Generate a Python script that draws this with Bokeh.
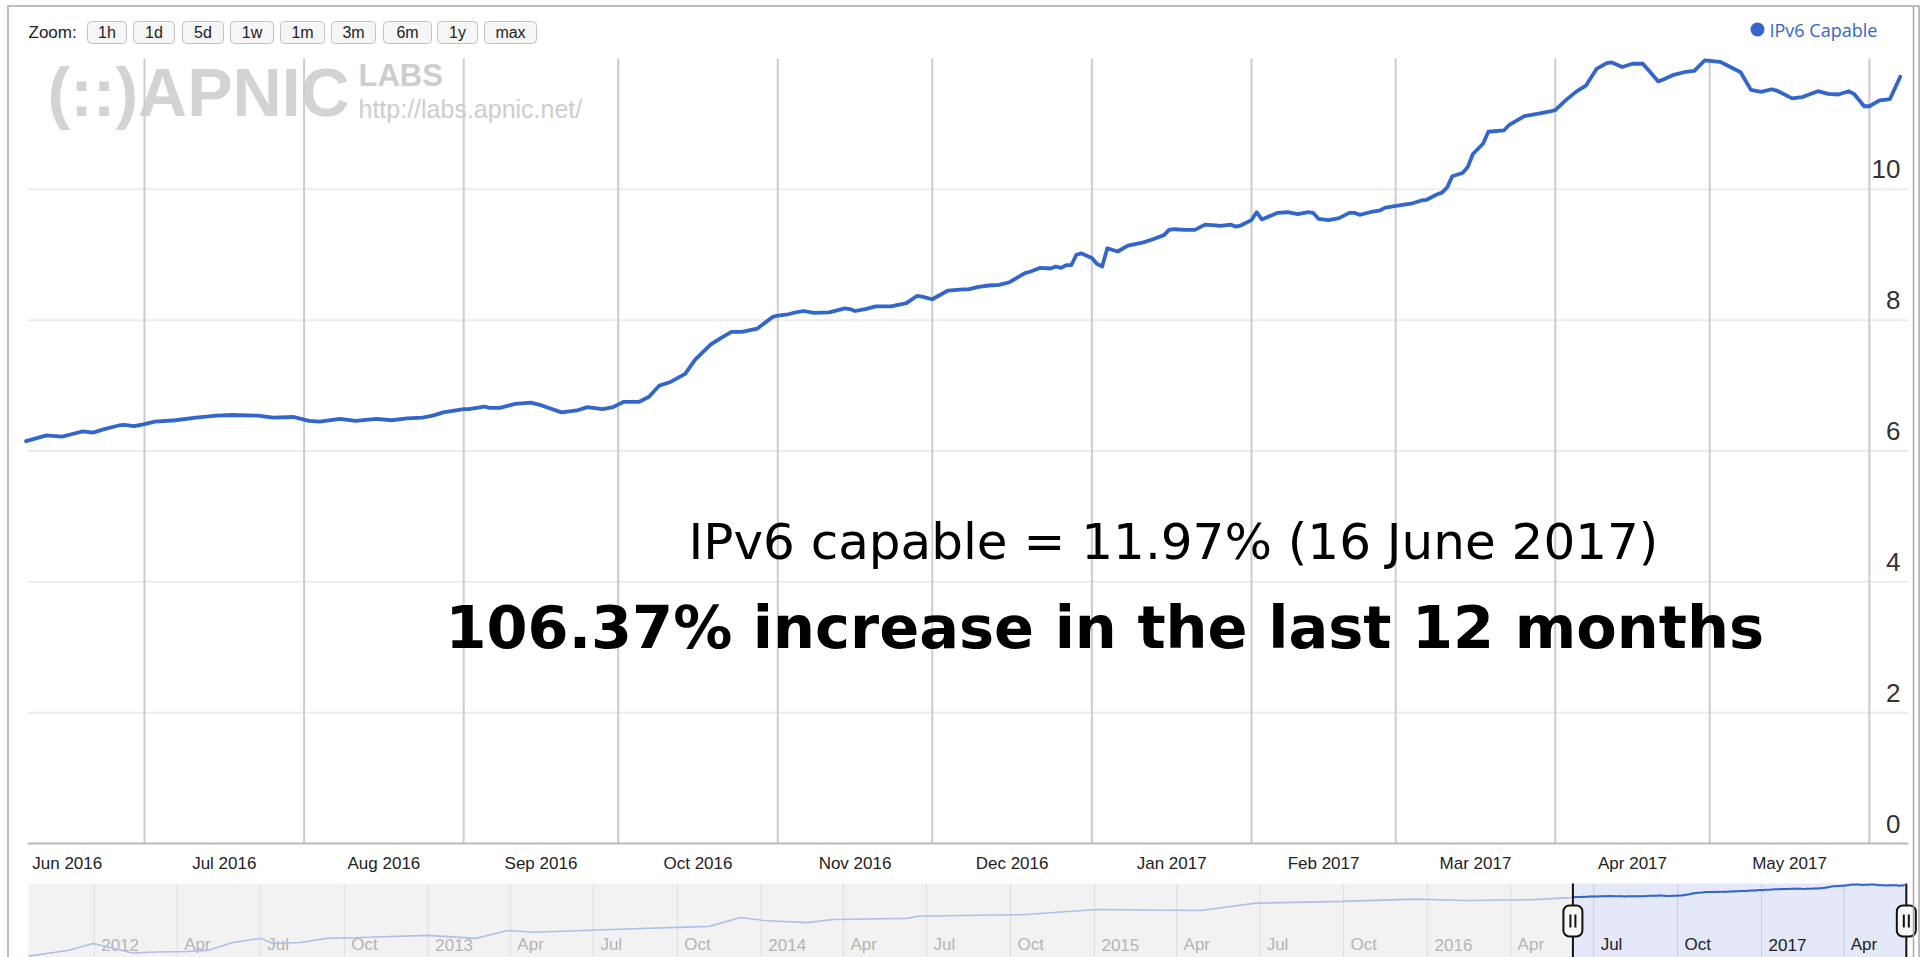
import numpy as np
from bokeh.plotting import figure
from bokeh.models import Range1d, LogScale
from bokeh.core.properties import value
from bokeh.embed import file_html
from bokeh.resources import INLINE

# ---------------------------------------------------------------- data
SERIES_NAME = "IPv6 Capable"
HEADLINE = "IPv6 capable = 11.97% (16 June 2017)"
SUBLINE = "106.37% increase in the last 12 months"
ZOOM_LABEL = "Zoom:"
ZOOM_BUTTONS = ["1h", "1d", "5d", "1w", "1m", "3m", "6m", "1y", "max"]
WATERMARK = ["(::)APNIC", "LABS", "http://labs.apnic.net/"]

dates = [
    "2016-06-08", "2016-06-12", "2016-06-15", "2016-06-17", "2016-06-19", "2016-06-21", "2016-06-23", "2016-06-26", "2016-06-27", "2016-06-29",
    "2016-07-01", "2016-07-03", "2016-07-07", "2016-07-11", "2016-07-15", "2016-07-18", "2016-07-23", "2016-07-26", "2016-07-30", "2016-07-31",
    "2016-08-02", "2016-08-04", "2016-08-08", "2016-08-11", "2016-08-15", "2016-08-18", "2016-08-21", "2016-08-24", "2016-08-26", "2016-08-28",
    "2016-09-01", "2016-09-02", "2016-09-05", "2016-09-06", "2016-09-08", "2016-09-11", "2016-09-14", "2016-09-16", "2016-09-20", "2016-09-23",
    "2016-09-25", "2016-09-28", "2016-09-30", "2016-10-02", "2016-10-05", "2016-10-07", "2016-10-09", "2016-10-11", "2016-10-14", "2016-10-16",
    "2016-10-19", "2016-10-21", "2016-10-23", "2016-10-25", "2016-10-28", "2016-10-31", "2016-11-01", "2016-11-03", "2016-11-04", "2016-11-06",
    "2016-11-08", "2016-11-11", "2016-11-14", "2016-11-15", "2016-11-16", "2016-11-18", "2016-11-20", "2016-11-23", "2016-11-26", "2016-11-28",
    "2016-11-29", "2016-12-01", "2016-12-04", "2016-12-07", "2016-12-08", "2016-12-10", "2016-12-12", "2016-12-14", "2016-12-16", "2016-12-19",
    "2016-12-20", "2016-12-22", "2016-12-24", "2016-12-25", "2016-12-26", "2016-12-27", "2016-12-28", "2016-12-29", "2016-12-30", "2017-01-01",
    "2017-01-02", "2017-01-03", "2017-01-04", "2017-01-06", "2017-01-08", "2017-01-11", "2017-01-13", "2017-01-15", "2017-01-16", "2017-01-17",
    "2017-01-19", "2017-01-21", "2017-01-23", "2017-01-25", "2017-01-26", "2017-01-28", "2017-01-29", "2017-01-30", "2017-02-01", "2017-02-02",
    "2017-02-03", "2017-02-06", "2017-02-08", "2017-02-10", "2017-02-12", "2017-02-13", "2017-02-14", "2017-02-16", "2017-02-18", "2017-02-20",
    "2017-02-21", "2017-02-22", "2017-02-24", "2017-02-26", "2017-02-27", "2017-03-02", "2017-03-04", "2017-03-06", "2017-03-07", "2017-03-09",
    "2017-03-10", "2017-03-11", "2017-03-12", "2017-03-14", "2017-03-15", "2017-03-16", "2017-03-18", "2017-03-19", "2017-03-22", "2017-03-23",
    "2017-03-26", "2017-03-29", "2017-03-31", "2017-04-01", "2017-04-03", "2017-04-05", "2017-04-07", "2017-04-09", "2017-04-11", "2017-04-12",
    "2017-04-14", "2017-04-16", "2017-04-18", "2017-04-19", "2017-04-21", "2017-04-22", "2017-04-24", "2017-04-26", "2017-04-28", "2017-04-30",
    "2017-05-03", "2017-05-05", "2017-05-07", "2017-05-09", "2017-05-11", "2017-05-13", "2017-05-14", "2017-05-17", "2017-05-19", "2017-05-22",
    "2017-05-24", "2017-05-26", "2017-05-28", "2017-05-29", "2017-05-31", "2017-06-01", "2017-06-03", "2017-06-05", "2017-06-07",
]
ipv6_capable = [
    6.15, 6.24, 6.22, 6.26, 6.30, 6.28, 6.33, 6.39, 6.40, 6.38,
    6.41, 6.45, 6.47, 6.51, 6.54, 6.55, 6.54, 6.51, 6.52, 6.50,
    6.46, 6.45, 6.49, 6.46, 6.49, 6.47, 6.50, 6.51, 6.54, 6.59,
    6.64, 6.64, 6.68, 6.66, 6.66, 6.72, 6.74, 6.70, 6.59, 6.62,
    6.67, 6.64, 6.67, 6.75, 6.75, 6.83, 7.00, 7.05, 7.18, 7.40,
    7.63, 7.73, 7.82, 7.82, 7.87, 8.05, 8.07, 8.09, 8.11, 8.14,
    8.11, 8.12, 8.18, 8.17, 8.14, 8.17, 8.21, 8.21, 8.26, 8.37,
    8.36, 8.32, 8.45, 8.47, 8.47, 8.51, 8.53, 8.54, 8.58, 8.72,
    8.74, 8.80, 8.79, 8.82, 8.80, 8.84, 8.84, 9.00, 9.02, 8.95,
    8.86, 8.82, 9.10, 9.05, 9.14, 9.19, 9.24, 9.30, 9.38, 9.39,
    9.38, 9.38, 9.46, 9.45, 9.44, 9.46, 9.43, 9.45, 9.53, 9.65,
    9.54, 9.64, 9.65, 9.62, 9.65, 9.64, 9.55, 9.53, 9.56, 9.64,
    9.64, 9.61, 9.65, 9.68, 9.72, 9.76, 9.78, 9.83, 9.84, 9.92,
    9.95, 10.03, 10.20, 10.25, 10.34, 10.54, 10.70, 10.88, 10.90, 10.98,
    11.12, 11.16, 11.19, 11.21, 11.36, 11.49, 11.59, 11.84, 11.93, 11.94,
    11.87, 11.92, 11.92, 11.83, 11.65, 11.68, 11.75, 11.79, 11.81, 11.97,
    11.95, 11.87, 11.79, 11.52, 11.49, 11.53, 11.51, 11.39, 11.41, 11.50,
    11.46, 11.45, 11.50, 11.46, 11.27, 11.27, 11.36, 11.38, 11.72,
]

# longer history shown in the navigator strip (log scale)
history_dates = [
    "2011-10-21", "2011-12-03", "2011-12-31", "2012-02-12", "2012-03-10", "2012-04-12", "2012-05-04",
    "2012-06-01", "2012-07-01", "2012-07-15", "2012-08-14", "2012-09-12", "2012-10-18", "2012-12-31",
    "2013-02-23", "2013-03-29", "2013-04-26", "2013-07-21", "2013-11-05", "2013-12-09", "2014-01-04",
    "2014-02-21", "2014-03-20", "2014-06-09", "2014-06-22", "2014-08-07", "2014-10-14", "2015-01-03",
    "2015-04-27", "2015-06-27", "2015-09-29", "2015-12-19", "2016-02-12", "2016-04-26", "2016-06-06",
]
history_values = [
    0.29, 0.39, 0.56, 0.34, 0.36, 0.37, 0.39,
    0.59, 0.73, 0.56, 0.59, 0.73, 0.76, 0.85,
    0.73, 1.10, 1.00, 1.16, 1.36, 2.16, 1.85,
    1.65, 1.95, 2.06, 2.30, 2.40, 2.49, 3.27,
    3.11, 4.54, 4.97, 5.60, 5.23, 5.45, 6.05,
]

month_bounds = ["2016-06-01", "2016-07-01", "2016-08-01", "2016-09-01", "2016-10-01", "2016-11-01", "2016-12-01",
                "2017-01-01", "2017-02-01", "2017-03-01", "2017-04-01", "2017-05-01", "2017-06-01"]
month_labels = ["Jun 2016", "Jul 2016", "Aug 2016", "Sep 2016", "Oct 2016", "Nov 2016",
                "Dec 2016", "Jan 2017", "Feb 2017", "Mar 2017", "Apr 2017", "May 2017"]
y_ticks = [0, 2, 4, 6, 8, 10]
y_tick_labels = ["0", "2", "4", "6", "8", "10"]
y_max = 12
nav_ticks = ["2012-01-01", "2012-04-01", "2012-07-01", "2012-10-01", "2013-01-01", "2013-04-01", "2013-07-01", "2013-10-01",
             "2014-01-01", "2014-04-01", "2014-07-01", "2014-10-01", "2015-01-01", "2015-04-01", "2015-07-01", "2015-10-01",
             "2016-01-01", "2016-04-01", "2016-07-01", "2016-10-01", "2017-01-01", "2017-04-01"]
nav_tick_labels = ["2012", "Apr", "Jul", "Oct", "2013", "Apr", "Jul", "Oct",
                   "2014", "Apr", "Jul", "Oct", "2015", "Apr", "Jul", "Oct",
                   "2016", "Apr", "Jul", "Oct", "2017", "Apr"]
window = ("2016-06-08T06:45", "2017-06-08T14:30")
nav_window = ("2011-10-21T00:00", "2017-06-11T00:00")

# ---------------------------------------------------------------- layout
W, H = 1927, 957
PLOT_L, PLOT_R, PLOT_T, PLOT_B = 27, 1908, 58, 843
NAV_L, NAV_R, NAV_T, NAV_B = 28, 1908, 883, 957
NAV_LOG_TOP, NAV_LOG_BOTTOM = 12.6, 0.27

BLUE = "#3366cc"
SANS = value("Liberation Sans")
VERD = value("DejaVu Sans")

def ms(s):
    return float(np.datetime64(s, "ms").astype("int64"))

def stretch(d0, d1, p0, p1, q0, q1):
    k = (d1 - d0) / (p1 - p0)
    return d0 + (q0 - p0) * k, d0 + (q1 - p0) * k

t = [ms(d) for d in dates]
w0, w1 = ms(window[0]), ms(window[1])
n0, n1 = ms(nav_window[0]), ms(nav_window[1])

p = figure(width=W, height=H, output_backend="svg", toolbar_location=None, tools="",
           x_range=Range1d(0, W), y_range=Range1d(H, 0),
           x_axis_location=None, y_axis_location=None, min_border=0)
p.outline_line_color = None
p.xgrid.visible = False
p.ygrid.visible = False
p.background_fill_color = "white"
p.border_fill_color = "white"

p.extra_x_ranges = {
    "date": Range1d(*stretch(w0, w1, PLOT_L, PLOT_R, 0, W)),
    "nav": Range1d(*stretch(n0, n1, NAV_L, NAV_R, 0, W)),
}
lo, hi = stretch(np.log(NAV_LOG_TOP), np.log(NAV_LOG_BOTTOM), NAV_T, NAV_B, H, 0)
p.extra_y_ranges = {
    "pct": Range1d(*stretch(0, y_max, PLOT_B, PLOT_T, H, 0)),
    "navy": Range1d(float(np.exp(lo)), float(np.exp(hi))),
}
p.extra_y_scales = {"navy": LogScale()}

# ---------------------------------------------------------------- watermark
p.text(x=[47], y=[91], text=[WATERMARK[0]], text_font=SANS, text_font_style="bold",
       text_font_size="68px", text_color="#d3d3d3", text_baseline="middle")
p.text(x=[358], y=[75], text=[WATERMARK[1]], text_font=SANS, text_font_style="bold",
       text_font_size="31px", text_color="#cdcdcd", text_baseline="middle")
p.text(x=[358], y=[108], text=[WATERMARK[2]], text_font=SANS,
       text_font_size="25px", text_color="#cdcdcd", text_baseline="middle")

# ---------------------------------------------------------------- grid + axis
p.segment(x0=[w0] * 5, x1=[w1] * 5, y0=y_ticks[1:], y1=y_ticks[1:], x_range_name="date", y_range_name="pct",
          line_color="#ebebf4", line_width=2)
grid_months = [ms(m) for m in month_bounds if w0 < ms(m) < w1]
p.segment(x0=grid_months, x1=grid_months, y0=[0] * len(grid_months), y1=[y_max] * len(grid_months),
          x_range_name="date", y_range_name="pct", line_color="#cccccc", line_width=2)
p.segment(x0=[w0], x1=[w1], y0=[0], y1=[0], x_range_name="date", y_range_name="pct",
          line_color="#bbbbbb", line_width=2)

# ---------------------------------------------------------------- series
p.line(x=t, y=ipv6_capable, x_range_name="date", y_range_name="pct",
       line_color=BLUE, line_width=3.8, line_join="round", line_cap="round")

# axis labels
mids = [(ms(a) + ms(b)) / 2 for a, b in zip(month_bounds[:-1], month_bounds[1:])]
p.text(x=mids, y=[863] * len(mids), text=month_labels, x_range_name="date",
       text_font=SANS, text_font_size="17px", text_color="#222222",
       text_align="center", text_baseline="middle")
p.text(x=[1900] * len(y_ticks), y=y_ticks, text=y_tick_labels, y_range_name="pct", y_offset=-20,
       text_font=SANS, text_font_size="26px", text_color="#333333",
       text_align="right", text_baseline="middle")

# ---------------------------------------------------------------- annotation
p.text(x=[688], y=[541], text=[HEADLINE], text_font=VERD, text_font_size="50px",
       text_color="#000000", text_baseline="middle")
p.text(x=[445], y=[627], text=[SUBLINE], text_font=VERD, text_font_style="bold",
       text_font_size="59px", text_color="#000000", text_baseline="middle")

# ---------------------------------------------------------------- header: zoom buttons + legend
p.text(x=[28], y=[32], text=[ZOOM_LABEL], text_font=SANS, text_font_size="17px",
       text_color="#222222", text_baseline="middle")
BUTTON_X = [(87, 126), (133, 174), (182, 223), (230, 273), (280, 324), (331, 375), (383, 431), (437, 477), (484, 536)]
p.quad(left=[a for a, b in BUTTON_X], right=[b for a, b in BUTTON_X],
       top=[21] * 9, bottom=[43] * 9, border_radius=4,
       fill_color="#f6f6f6", line_color="#c2c2c2", line_width=1)
p.text(x=[(a + b) / 2 for a, b in BUTTON_X], y=[32] * 9, text=ZOOM_BUTTONS,
       text_font=SANS, text_font_size="16px", text_color="#222222",
       text_align="center", text_baseline="middle")
p.scatter(x=[1757], y=[29], marker="circle", size=14, fill_color=BLUE, line_color=None)
p.text(x=[1769], y=[29], text=[SERIES_NAME], text_font=value("Open Sans"),
       text_font_size="18px", text_color=BLUE, text_baseline="middle")

# ---------------------------------------------------------------- navigator
p.quad(left=[n0], right=[w0], top=[NAV_T], bottom=[NAV_B], x_range_name="nav",
       fill_color="#f2f2f2", line_color=None)
p.quad(left=[w0], right=[w1], top=[NAV_T], bottom=[NAV_B], x_range_name="nav",
       fill_color="#e5e8f8", line_color=None)
nt = [ms(d) for d in nav_ticks]
inside = [x >= w0 for x in nt]
for sel, col, tcol in ((False, "#dedede", "#b4b4b4"), (True, "#c9ccd8", "#222222")):
    xs = [x for x, s in zip(nt, inside) if s == sel]
    labs = [l for l, s in zip(nav_tick_labels, inside) if s == sel]
    p.segment(x0=xs, x1=xs, y0=[NAV_T] * len(xs), y1=[NAV_B] * len(xs), x_range_name="nav",
              line_color=col, line_width=1)
    p.text(x=xs, y=[944] * len(xs), text=labs, x_range_name="nav", x_offset=7,
           text_font=SANS, text_font_size="17px", text_color=tcol, text_baseline="middle")
hist_t = [ms(d) for d in history_dates]
p.line(x=hist_t + t, y=history_values + ipv6_capable, x_range_name="nav", y_range_name="navy",
       line_color="#aebfea", line_width=1.6)
p.line(x=t, y=ipv6_capable, x_range_name="nav", y_range_name="navy", line_color=BLUE, line_width=2)

nav_ms_px = (n1 - n0) / (NAV_R - NAV_L)
for hx in (w0, w1):
    p.segment(x0=[hx], x1=[hx], y0=[NAV_T], y1=[NAV_B], x_range_name="nav",
              line_color="#111111", line_width=2)
    p.rect(x=[hx], y=[920.5], width=19, height=31, width_units="screen", height_units="screen",
           x_range_name="nav", fill_color="#f7f7f7", line_color="#111111", line_width=2, border_radius=6)
    p.rect(x=[hx - 2.5 * nav_ms_px, hx + 2.5 * nav_ms_px], y=[920.5] * 2, width=2, height=13,
           width_units="screen", height_units="screen", x_range_name="nav",
           fill_color="#111111", line_color=None)

# ---------------------------------------------------------------- outer frame
p.segment(x0=[7.5, 7, 1913, 1918.5], x1=[7.5, 1919, 1913, 1918.5],
          y0=[5.5, 5.5, 5.5, 5.5], y1=[H, 5.5, H, H],
          line_color="#a8a8a8", line_width=1.5)

open("out.html", "w").write(file_html(p, INLINE))
